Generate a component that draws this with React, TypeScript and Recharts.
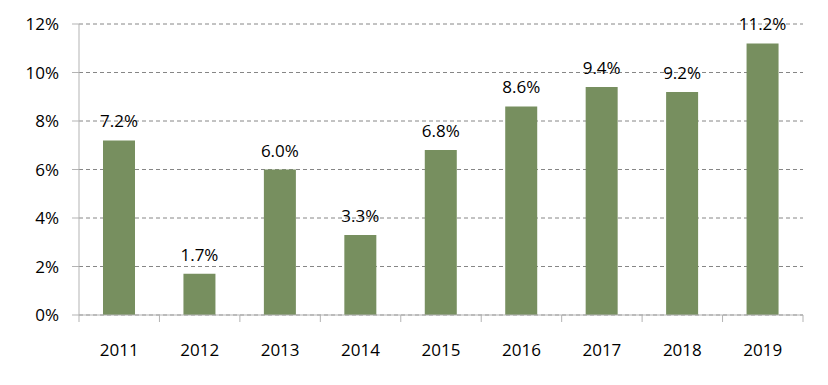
import { Bar, BarChart, CartesianGrid, LabelList, XAxis, YAxis } from "recharts";

const years = ["2011", "2012", "2013", "2014", "2015", "2016", "2017", "2018", "2019"];
const growth = [7.2, 1.7, 6.0, 3.3, 6.8, 8.6, 9.4, 9.2, 11.2];
const yTicks = [0, 2, 4, 6, 8, 10, 12];

const data = years.map((year, i) => ({ year, value: growth[i] }));

const FONT = "'Open Sans', 'Liberation Sans', sans-serif";
const AXIS = "#b3b3b3";

function YearTick(props: any) {
  const { x, y, payload, index } = props;
  const band = 724 / years.length;
  const left = x - band / 2;
  return (
    <g>
      <line x1={left} y1={y - 8} x2={left} y2={y - 1} stroke={AXIS} strokeWidth={1} />
      {index === years.length - 1 && (
        <line x1={x + band / 2} y1={y - 8} x2={x + band / 2} y2={y - 1} stroke={AXIS} strokeWidth={1} />
      )}
      <text x={x} y={y + 33} textAnchor="middle" fontSize={17} fill="#000" fontFamily={FONT}>
        {payload.value}
      </text>
    </g>
  );
}

export default function App() {
  return (
    <div style={{ position: "absolute", left: 0, top: 0, background: "#fff" }}>
      <BarChart
        width={828}
        height={385}
        data={data}
        margin={{ top: 24, right: 25, bottom: 0, left: 0 }}
        barSize={32}
      >
        <CartesianGrid horizontal vertical={false} stroke="#868686" strokeDasharray="4 3" />
        <XAxis
          dataKey="year"
          height={70}
          stroke={AXIS}
          tickLine={false}
          tick={<YearTick />}
          interval={0}
        />
        <YAxis
          width={79}
          domain={[0, 12]}
          ticks={yTicks}
          stroke={AXIS}
          tickSize={7}
          tickMargin={13}
          tickFormatter={(v) => `${v}%`}
          tick={{ fontSize: 17, fill: "#000", fontFamily: FONT }}
        />
        <Bar dataKey="value" fill="#778f5f" isAnimationActive={false}>
          <LabelList
            dataKey="value"
            position="top"
            offset={13}
            formatter={(v: any) => `${Number(v).toFixed(1)}%`}
            style={{ fontSize: 17, fill: "#000", fontFamily: FONT }}
          />
        </Bar>
      </BarChart>
    </div>
  );
}
